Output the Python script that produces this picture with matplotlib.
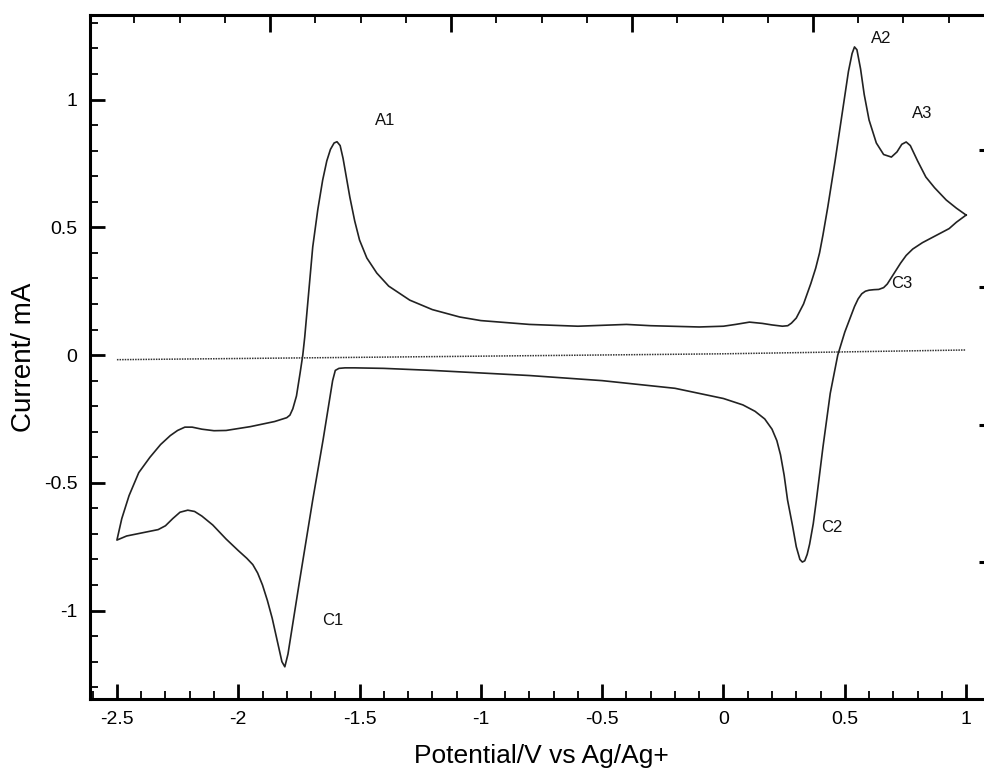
import matplotlib
matplotlib.use("Agg")
import matplotlib.pyplot as plt
from matplotlib.ticker import MultipleLocator, FixedLocator, NullFormatter
import numpy as np

plt.rcParams['font.family'] = ['Liberation Sans', 'DejaVu Sans']

# ---- data (potential V, current mA) ----
# cathodic sweep from +1.0 V down to -2.5 V (lower branch)
cath_E = [1.0, 0.96, 0.93, 0.89, 0.86, 0.82, 0.78, 0.753, 0.73, 0.71, 0.69, 0.675, 0.66,
          0.64, 0.62, 0.60, 0.585, 0.57, 0.555, 0.54, 0.52, 0.50, 0.471, 0.44, 0.41,
          0.383, 0.37, 0.355, 0.345, 0.335, 0.325, 0.315, 0.30, 0.285, 0.264,
          0.25, 0.235, 0.22, 0.20, 0.17, 0.13, 0.08, 0.0, -0.1, -0.2, -0.35, -0.5, -0.8,
          -1.0, -1.2, -1.4, -1.52, -1.56, -1.585, -1.60, -1.611, -1.65, -1.693, -1.75,
          -1.78, -1.795, -1.808, -1.82, -1.84, -1.86, -1.88, -1.90, -1.92, -1.94, -1.965,
          -2.0, -2.05, -2.105, -2.15, -2.18, -2.208, -2.24, -2.27, -2.30, -2.33, -2.393,
          -2.46, -2.5]
cath_I = [0.548, 0.52, 0.495, 0.475, 0.46, 0.44, 0.415, 0.39, 0.36, 0.33, 0.30, 0.278, 0.264,
          0.257, 0.256, 0.254, 0.25, 0.24, 0.22, 0.19, 0.14, 0.09, 0.0, -0.15, -0.36,
          -0.567, -0.66, -0.74, -0.78, -0.805, -0.81, -0.80, -0.75, -0.67, -0.567,
          -0.47, -0.39, -0.335, -0.29, -0.25, -0.22, -0.195, -0.17, -0.15, -0.13, -0.115, -0.10, -0.08,
          -0.07, -0.06, -0.052, -0.05, -0.05, -0.052, -0.06, -0.10, -0.33, -0.567, -0.90,
          -1.08, -1.17, -1.22, -1.20, -1.115, -1.03, -0.96, -0.90, -0.853, -0.82, -0.795,
          -0.765, -0.72, -0.665, -0.63, -0.612, -0.607, -0.615, -0.64, -0.668, -0.683, -0.695,
          -0.708, -0.724]
# anodic sweep from -2.5 V back up to +1.0 V (upper branch)
anod_E = [-2.5, -2.48, -2.45, -2.41, -2.364, -2.32, -2.28, -2.25, -2.22, -2.19, -2.15, -2.10,
          -2.05, -1.95, -1.85, -1.80, -1.787, -1.775, -1.76, -1.745, -1.734, -1.726, -1.71,
          -1.693, -1.672, -1.652, -1.635, -1.62, -1.605, -1.593, -1.58, -1.568, -1.555, -1.54,
          -1.52, -1.5, -1.47, -1.429, -1.38, -1.293, -1.2, -1.087, -1.0, -0.8, -0.6, -0.4,
          -0.3, -0.1, 0.0, 0.05, 0.107, 0.16, 0.2, 0.243, 0.265, 0.28, 0.30, 0.33, 0.36, 0.38,
          0.396, 0.41, 0.43, 0.46, 0.49, 0.515, 0.53, 0.54, 0.55, 0.565, 0.58, 0.60, 0.63,
          0.66, 0.692, 0.715, 0.735, 0.753, 0.77, 0.80, 0.834, 0.87, 0.918, 0.96, 1.0]
anod_I = [-0.724, -0.64, -0.55, -0.46, -0.40, -0.35, -0.315, -0.295, -0.282, -0.282, -0.29, -0.296,
          -0.295, -0.28, -0.26, -0.245, -0.235, -0.21, -0.16, -0.07, 0.0, 0.07, 0.24,
          0.423, 0.57, 0.685, 0.76, 0.805, 0.83, 0.835, 0.82, 0.77, 0.70, 0.618,
          0.525, 0.45, 0.38, 0.321, 0.27, 0.215, 0.178, 0.149, 0.135, 0.12, 0.113, 0.12,
          0.115, 0.11, 0.113, 0.12, 0.129, 0.124, 0.118, 0.113, 0.115, 0.125, 0.145, 0.20, 0.28, 0.34,
          0.40, 0.47, 0.58, 0.76, 0.95, 1.11, 1.18, 1.206, 1.195, 1.12, 1.02, 0.92, 0.83,
          0.785, 0.775, 0.795, 0.825, 0.834, 0.82, 0.76, 0.697, 0.655, 0.607, 0.575, 0.548]
# blank (dotted) baseline
blank_E = [-2.5, 0.0, 1.0]
blank_I = [-0.018, 0.005, 0.02]

peak_labels = ['A1', 'A2', 'A3', 'C1', 'C2', 'C3']
peak_E = [-1.396, 0.651, 0.82, -1.61, 0.445, 0.733]
peak_I = [0.92, 1.24, 0.947, -1.037, -0.673, 0.282]

fig = plt.figure(figsize=(9.84, 7.69), dpi=100)
ax = fig.add_axes([90/984, 1-699/769, (986-90)/984, (699-15)/769])

E = np.array(cath_E + anod_E[1:])
I = np.array(cath_I + anod_I[1:])
ax.plot(E, I, color='#222222', lw=1.2, solid_joinstyle='round')
ax.plot(blank_E, blank_I, color='#333333', lw=1.1, linestyle=(0, (1, 0.7)))

for lab, e, i in zip(peak_labels, peak_E, peak_I):
    ax.text(e, i, lab, ha='center', va='center', fontsize=12, color='#111111')

ax.set_xlim(-2.611, 1.082)
ax.set_ylim(-1.346, 1.331)
ax.xaxis.set_minor_locator(MultipleLocator(0.1))
ax.yaxis.set_minor_locator(MultipleLocator(0.1))
ax.set_xticks([-2.5, -2, -1.5, -1, -0.5, 0, 0.5, 1])
ax.set_xticklabels(['-2.5', '-2', '-1.5', '-1', '-0.5', '0', '0.5', '1'])
ax.set_yticks([-1, -0.5, 0, 0.5, 1])
ax.set_yticklabels(['-1', '-0.5', '0', '0.5', '1'])
ax.tick_params(which='major', direction='in', length=11, width=2, labelsize=14, pad=9,
               top=False, right=False)
ax.tick_params(which='minor', direction='in', length=5.5, width=1.3, top=False, right=False)
for s in ax.spines.values():
    s.set_linewidth(2.2)

# top axis ticks (separate scale, no labels)
axt = ax.twiny()
axt.set_xlim(-180/181, (986-270)/181)
axt.xaxis.set_major_locator(MultipleLocator(1))
axt.xaxis.set_minor_locator(MultipleLocator(0.25))
axt.xaxis.set_major_formatter(NullFormatter())
axt.tick_params(which='major', direction='in', length=12, width=2)
axt.tick_params(which='minor', direction='in', length=6, width=1.3)

# right axis ticks (separate scale, no labels)
axr = ax.twinx()
axr.set_ylim(-0.998, 3.984)
axr.yaxis.set_major_locator(FixedLocator([0, 1, 2, 3]))
axr.yaxis.set_major_formatter(NullFormatter())
axr.tick_params(which='major', direction='in', length=5, width=2.2)

fig.text(541/984, 1-756/769, 'Potential/V vs Ag/Ag+', ha='center', va='center', fontsize=19)
fig.text(24/984, 1-357/769, 'Current/ mA', ha='center', va='center', rotation=90, fontsize=20)

fig.savefig('out.png', dpi=100)
